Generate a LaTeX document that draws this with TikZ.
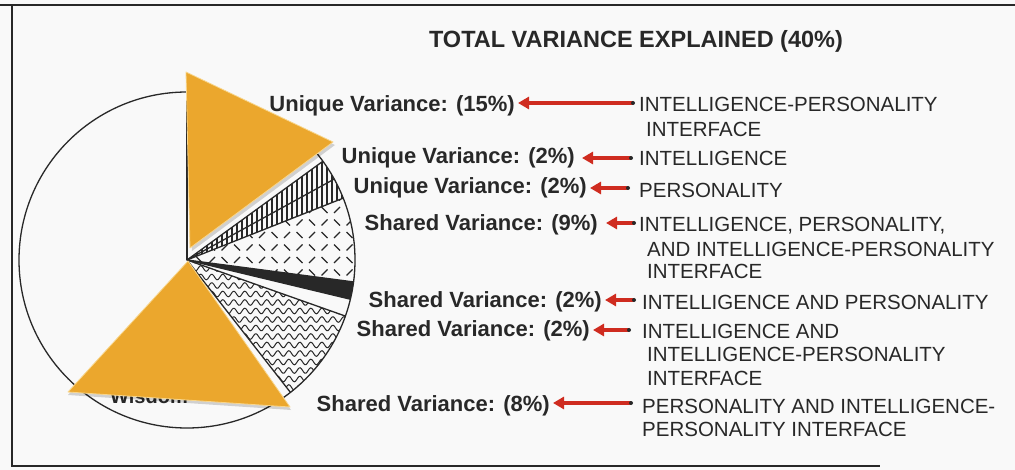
\documentclass[tikz,border=0pt]{standalone}
\usepackage{fontspec}
\setmainfont{Liberation Sans}
\usetikzlibrary{arrows.meta,calc}
\definecolor{orng}{RGB}{235,167,45}
\definecolor{orngedge}{RGB}{248,214,140}
\definecolor{arrred}{RGB}{207,44,32}
\definecolor{ink}{RGB}{40,40,40}
\definecolor{bg}{RGB}{249,249,249}
\begin{document}
\begin{tikzpicture}[x=1pt,y=-1pt,
  lbl/.style={font=\bfseries\fontsize{22}{24}\selectfont, text=ink, inner sep=0pt, anchor=base east},
  rtxt/.style={font=\fontsize{20.5}{22}\selectfont, text=ink, inner sep=0pt, anchor=base west},
  ttl/.style={font=\bfseries\fontsize{23.5}{26}\selectfont, text=ink, inner sep=0pt, anchor=base},
  arr/.style={draw=arrred, line width=4.5pt, -{Triangle[length=11pt,width=12pt]}, shorten >=3pt},
  tri/.style={fill=orng, draw=orngedge, line width=0.8pt, line join=round},
  shad/.style={fill=black, opacity=0.16},
  frame/.style={draw=ink, line width=1.3pt},
  pie/.style={draw=ink, line width=1.3pt},
  dsh/.style={draw=ink, line width=1.3pt},
  wv/.style={draw=ink, line width=1pt},
  vh/.style={draw=ink, line width=1.1pt}
]
\fill[bg] (0,0) rectangle (1015,470);
\useasboundingbox (0,0) rectangle (1015,470);
% frame
\draw[frame] (0,5) -- (1015,5);
\draw[frame] (12,5) -- (12,466) -- (880,466);

% pie
\def\R{168}
\begin{scope}[shift={(187,260)}, x=1pt, y=1pt]
  \begin{scope}
    \clip (0,0) -- (36:\R) arc[start angle=36,end angle=21.6,radius=\R] -- cycle;
    \foreach \x in {0,5,...,170} \draw[vh] (\x,0) -- (\x,\R);
  \end{scope}
  \begin{scope}
    \clip (0,0) -- (21.6:\R) arc[start angle=21.6,end angle=-7.5,radius=\R] -- cycle;
    \foreach \i in {0,...,14}{\foreach \j in {-3,...,6}{
      \pgfmathtruncatemacro\pp{mod(\i+\j+100,2)}
      \ifnum\pp=0
        \draw[dsh] (\i*12.5-3,\j*12.5-3) -- ++(6,6);
      \else
        \draw[dsh] (\i*12.5-3,\j*12.5+3) -- ++(6,-6);
      \fi
    }}
  \end{scope}
  \fill[ink] (0,0) -- (-7.5:\R) arc[start angle=-7.5,end angle=-13.5,radius=\R] -- cycle;
  \begin{scope}
    \clip (0,0) -- (-19.5:\R) arc[start angle=-19.5,end angle=-52,radius=\R] -- cycle;
    \foreach \j in {0,...,17}
      \draw[wv] plot[domain=0:172, samples=150, smooth] (\x, {-\j*8.5 + 2.8*sin(\x*32.7)});
  \end{scope}
  \foreach \a in {90,36,28.8,21.6,-7.5,-13.5,-19.5,-52}
    \draw[pie] (0,0) -- (\a:\R);
  \draw[pie] (0,0) circle[radius=\R];
\end{scope}

% hidden label under the lower triangle
\node[font=\bfseries\fontsize{20}{22}\selectfont, text=ink, inner sep=0pt, anchor=base] (wis) at (149,403) {Wisdom};

% orange triangles
\fill[shad] (188,75) -- (335,145) -- (192,251) -- cycle;
\filldraw[tri] (186,72) -- (333,142) -- (190,248) -- cycle;
\fill[shad] (189,264) -- (291,410) -- (68,395) -- cycle;
\filldraw[tri] (188,261) -- (290,407) -- (68,392) -- cycle;

% title
\node[ttl] (title) at (636,48) {TOTAL VARIANCE EXPLAINED (40\%)};

% left labels
\node[lbl] (l1) at (515,112) {Unique Variance: (15\%)};
\node[lbl] (l2) at (575,164) {Unique Variance: (2\%)};
\node[lbl] (l3) at (587,194) {Unique Variance: (2\%)};
\node[lbl] (l4) at (598,231) {Shared Variance: (9\%)};
\node[lbl] (l5) at (602,308) {Shared Variance: (2\%)};
\node[lbl] (l6) at (590,337) {Shared Variance: (2\%)};
\node[lbl] (l7) at (550,411) {Shared Variance: (8\%)};

% right texts
\node[rtxt] (r1a) at (639,112) {INTELLIGENCE-PERSONALITY};
\node[rtxt] (r1b) at (646,137) {INTERFACE};
\node[rtxt] (r2) at (639,166) {INTELLIGENCE};
\node[rtxt] (r3) at (639,198) {PERSONALITY};
\node[rtxt] (r4a) at (639,232) {INTELLIGENCE, PERSONALITY,};
\node[rtxt] (r4b) at (647,257) {AND INTELLIGENCE-PERSONALITY};
\node[rtxt] (r4c) at (647,279) {INTERFACE};
\node[rtxt] (r5) at (642,310) {INTELLIGENCE AND PERSONALITY};
\node[rtxt] (r6a) at (642,339) {INTELLIGENCE AND};
\node[rtxt] (r6b) at (647,362) {INTELLIGENCE-PERSONALITY};
\node[rtxt] (r6c) at (647,385) {INTERFACE};
\node[rtxt] (r7a) at (642,413) {PERSONALITY AND INTELLIGENCE-};
\node[rtxt] (r7b) at (642,436) {PERSONALITY INTERFACE};

% arrows
\coordinate (d1) at (633,103);
\coordinate (d2) at (631,158);
\coordinate (d3) at (628,188);
\coordinate (d4) at (634,223);
\coordinate (d5) at (634,300);
\coordinate (d6) at (629,330);
\coordinate (d7) at (631,403);
\draw[arr] (d1) -- (l1.east |- d1);
\draw[arr, shorten >=7pt] (d2) -- (l2.east |- d2);
\draw[arr] (d3) -- (l3.east |- d3);
\draw[arr, shorten >=8pt] (d4) -- (l4.east |- d4);
\draw[arr] (d5) -- (l5.east |- d5);
\draw[arr] (d6) -- (l6.east |- d6);
\draw[arr] (d7) -- (l7.east |- d7);
\foreach \d in {d1,d2,d3,d4,d5,d6,d7}
  \fill[ink] (\d) circle[radius=2];
\end{tikzpicture}
\end{document}
